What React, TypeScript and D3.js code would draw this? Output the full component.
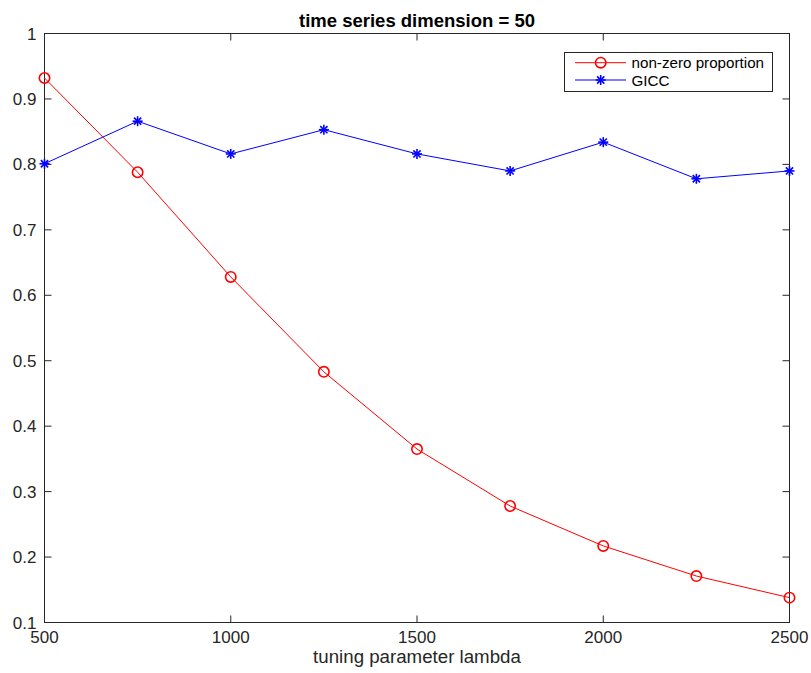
import React from "react";
import * as d3 from "d3";

const lambdas = [500, 750, 1000, 1250, 1500, 1750, 2000, 2250, 2500];
const nonZero = [0.932, 0.788, 0.628, 0.483, 0.365, 0.278, 0.217, 0.171, 0.138];
const gicc = [0.801, 0.866, 0.816, 0.853, 0.816, 0.790, 0.834, 0.778, 0.790];
const xTicks = [500, 1000, 1500, 2000, 2500];
const yTicks = [0.1, 0.2, 0.3, 0.4, 0.5, 0.6, 0.7, 0.8, 0.9, 1];
const title = "time series dimension = 50";
const xLabel = "tuning parameter lambda";
const legendLabels = ["non-zero proportion", "GICC"];

const W = 811, H = 673;
const L = 44.5, R = 789.5, T = 33.5, B = 622.5;
const FONT = "'Liberation Sans', Arial, Helvetica, sans-serif";
const AX = "#262626";

function Star({ x, y, color }: { x: number; y: number; color: string }) {
  const r = 5;
  const d = r * 0.72;
  return (
    <g stroke={color} strokeWidth={1.6}>
      <line x1={x - r} y1={y} x2={x + r} y2={y} />
      <line x1={x} y1={y - r} x2={x} y2={y + r} />
      <line x1={x - d} y1={y - d} x2={x + d} y2={y + d} />
      <line x1={x - d} y1={y + d} x2={x + d} y2={y - d} />
    </g>
  );
}

export default function App() {
  const x = d3.scaleLinear().domain([500, 2500]).range([L, R]);
  const y = d3.scaleLinear().domain([0.1, 1]).range([B, T]);
  const line = d3
    .line<number>()
    .x((_, i) => x(lambdas[i]))
    .y((d) => y(d));

  const lgX = 564.5, lgY = 52.5, lgW = 208, lgH = 39;
  const rows = [62.7, 80];

  return (
    <svg width={W} height={H} style={{ position: "absolute", left: 0, top: 0, background: "#fff" }}>
      <rect x={0} y={0} width={W} height={H} fill="#fff" />
      {/* frame */}
      <rect x={L} y={T} width={R - L} height={B - T} fill="none" stroke={AX} strokeWidth={1} />
      {xTicks.map((t) => (
        <g key={"x" + t}>
          <line x1={x(t)} x2={x(t)} y1={B} y2={B - 7} stroke={AX} />
          <line x1={x(t)} x2={x(t)} y1={T} y2={T + 7} stroke={AX} />
          <text x={x(t)} y={B + 20.5} textAnchor="middle" fontFamily={FONT} fontSize={17} fill={AX}>
            {t}
          </text>
        </g>
      ))}
      {yTicks.map((t) => (
        <g key={"y" + t}>
          <line x1={L} x2={L + 7} y1={y(t)} y2={y(t)} stroke={AX} />
          <line x1={R} x2={R - 7} y1={y(t)} y2={y(t)} stroke={AX} />
          <text x={L - 8} y={y(t) + 6} textAnchor="end" fontFamily={FONT} fontSize={17} fill={AX}>
            {d3.format("~g")(t)}
          </text>
        </g>
      ))}
      <text x={(L + R) / 2} y={26.5} textAnchor="middle" fontFamily={FONT} fontSize={18.5} fontWeight="bold" fill="#000">
        {title}
      </text>
      <text x={(L + R) / 2} y={663} textAnchor="middle" fontFamily={FONT} fontSize={18.7} fill={AX}>
        {xLabel}
      </text>

      {/* series */}
      <path d={line(nonZero) || ""} fill="none" stroke="#ff0000" strokeWidth={1} />
      <path d={line(gicc) || ""} fill="none" stroke="#0000ff" strokeWidth={1} />
      {nonZero.map((v, i) => (
        <circle key={"c" + i} cx={x(lambdas[i])} cy={y(v)} r={5.2} fill="none" stroke="#ff0000" strokeWidth={1.6} />
      ))}
      {gicc.map((v, i) => (
        <Star key={"s" + i} x={x(lambdas[i])} y={y(v)} color="#0000ff" />
      ))}

      {/* legend */}
      <rect x={lgX} y={lgY} width={lgW} height={lgH} fill="#fff" stroke={AX} strokeWidth={1} />
      <line x1={575} x2={626} y1={rows[0]} y2={rows[0]} stroke="#ff0000" strokeWidth={1} />
      <circle cx={600.7} cy={rows[0]} r={5.2} fill="none" stroke="#ff0000" strokeWidth={1.6} />
      <line x1={575} x2={626} y1={rows[1]} y2={rows[1]} stroke="#0000ff" strokeWidth={1} />
      <Star x={600.7} y={rows[1]} color="#0000ff" />
      {legendLabels.map((lab, i) => (
        <text key={lab} x={631.5} y={rows[i] + 5.5} fontFamily={FONT} fontSize={15.2} fill="#000">
          {lab}
        </text>
      ))}
    </svg>
  );
}
